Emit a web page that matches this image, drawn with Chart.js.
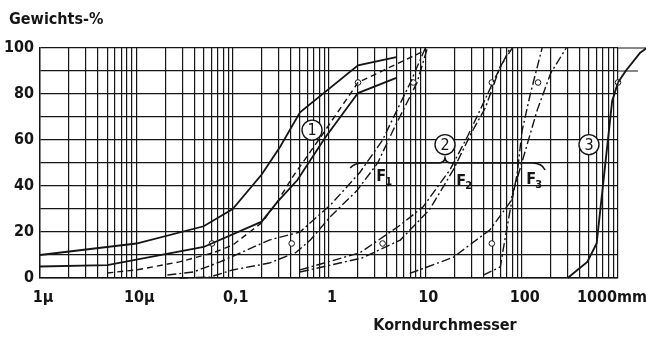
<!DOCTYPE html>
<html><head><meta charset="utf-8">
<script src="https://cdn.jsdelivr.net/npm/chart.js@4"></script>
<style>html,body{margin:0;padding:0;background:#fff}</style>
</head><body>
<canvas id="c" width="646" height="338"></canvas>
<script>
// ---- data (grain diameter in mm, percent by weight passing) ----
const soil1Upper = [[0.001,10],[0.01,15],[0.05,22.5],[0.1,30],[0.2,45],[0.31,57],[0.5,72],[2,92.5],[5,96]];
const soil1Lower = [[0.001,5],[0.005,5.6],[0.05,13.5],[0.2,24.5],[0.29,33],[0.47,42.6],[0.91,61],[2,80.4],[5,87]];
const soil1Mid   = [[0.005,2.2],[0.01,3.5],[0.028,7],[0.063,11],[0.1,14.3],[0.2,24],[0.29,33],[0.42,44],[0.81,61],[2,85],[10,99]];
const f1Upper    = [[0.021,1.3],[0.039,2.6],[0.074,7],[0.24,16.5],[0.5,20],[1.05,32],[2.1,46],[3.6,60],[4,64],[7,85],[10,100]];
const f1Lower    = [[0.028,0],[0.058,0.4],[0.1,3.5],[0.24,6.5],[0.45,11],[0.64,16.5],[1.05,27],[1.95,38],[3.2,50],[4.6,64],[8.2,85],[10.5,100]];
const f2Upper    = [[0.5,3.5],[2.1,11],[5.5,23],[9.5,31],[18,47],[27,61],[37,73],[53,87],[76,100]];
const f2Lower    = [[0.5,2.6],[2.2,8.7],[5.5,16.5],[11,29.6],[19.5,47],[30,63],[42,74],[60,92],[80,100]];
const f3Left     = [[40,1.3],[60,4.8],[65,13.5],[76,29.6],[90,45.6],[101,64],[123,80],[163,100]];
const f3Right    = [[6.9,2],[19.5,9],[47,21],[76,33],[97,48],[145,73],[200,89],[290,100]];
const soil3      = [[300,0],[480,7],[600,15],[870,77],[1000,85],[1200,90],[1700,98],[2000,100]];
const markD15D85 = [[0.061,15],[2,85],[0.41,15],[7.5,85],[3.6,15],[49,85],[49,15],[148,85],[1000,85]];

const xTickValues = [0.001,0.01,0.1,1,10,100,1000];
const xTickLabels = ['1\u00b5','10\u00b5','0,1','1','10','100','1000mm'];
const yTickValues = [0,20,40,60,80,100];

const labelMarks = [ // circled group numbers: [text, d, %]
  ['1',0.667,64.3],['2',16,58],['3',500,58]
];
const filterLabels = [['F','1',3.65,44],['F','2',24.7,42],['F','3',132,42.6]];
const braceSpan = [1.66,16,175,50]; // left end, tip, right end, level

const FONT = "'DejaVu Sans Condensed','DejaVu Sans',sans-serif";
const INK = '#151515';

const toPts = a => a.map(p => ({x:p[0], y:p[1]}));
function lineDs(arr, dash, width){
  return {type:'line', data:toPts(arr), borderColor:INK, borderWidth:width||1.8,
    borderDash:dash||[], pointRadius:0, tension:0, fill:false, clip:false};
}
const DASH = [6,4];
const DASHDOT = [9,3,2,3];

// all 1..9 x 10^k gridlines
const gridVals = [];
for (let e=-3; e<=2; e++) for (let m=1; m<=9; m++) gridVals.push(+(m*Math.pow(10,e)).toPrecision(3));
gridVals.push(1000);

const extras = {
  id:'extras',
  afterDatasetsDraw(chart){
    const {ctx, chartArea:a, scales:{x,y}} = chart;
    ctx.save();
    ctx.strokeStyle = INK; ctx.lineWidth = 1.2;
    // extended top gridlines
    ctx.beginPath();
    ctx.moveTo(a.right, y.getPixelForValue(100)); ctx.lineTo(646, y.getPixelForValue(100));
    ctx.moveTo(a.right, y.getPixelForValue(90)); ctx.lineTo(638, y.getPixelForValue(90));
    ctx.stroke();
    // part of curve 3 beyond the 1000 mm edge
    ctx.lineWidth = 1.9;
    ctx.beginPath();
    let started=false;
    soil3.forEach(([d,p])=>{
      if (d < 1000) return;
      const px=x.getPixelForValue(d), py=y.getPixelForValue(p);
      if(!started){ctx.moveTo(px,py); started=true;} else ctx.lineTo(px,py);
    });
    ctx.stroke();
    // brace
    const [bl,bt,br,lv] = braceSpan;
    const yl = y.getPixelForValue(lv), xl = x.getPixelForValue(bl), xt = x.getPixelForValue(bt), xr = x.getPixelForValue(br);
    ctx.lineWidth = 1.6;
    ctx.beginPath();
    ctx.moveTo(xl, yl+5); ctx.quadraticCurveTo(xl+4, yl, xl+13, yl);
    ctx.lineTo(xt-6, yl); ctx.quadraticCurveTo(xt-1, yl, xt, yl-5);
    ctx.quadraticCurveTo(xt+1, yl, xt+6, yl);
    ctx.lineTo(xr-13, yl); ctx.quadraticCurveTo(xr-3, yl, xr, yl+7);
    ctx.stroke();
    // circled numbers
    ctx.textAlign='center'; ctx.textBaseline='middle';
    labelMarks.forEach(([t,d,p])=>{
      const px = x.getPixelForValue(d), py = y.getPixelForValue(p);
      ctx.fillStyle='#fff'; ctx.beginPath(); ctx.arc(px,py,10,0,Math.PI*2); ctx.fill();
      ctx.fillStyle=INK; ctx.lineWidth=1.4; ctx.stroke();
      ctx.font = "16px "+FONT; ctx.fillText(t, px, py+1);
    });
    // filter labels
    filterLabels.forEach(([f,s,d,p])=>{
      const px = x.getPixelForValue(d), py = y.getPixelForValue(p);
      ctx.font = "bold 16px "+FONT; ctx.textAlign='left';
      ctx.fillText(f, px-7, py);
      ctx.font = "bold 11px "+FONT; ctx.fillText(s, px+2, py+5);
    });
    // x tick labels (decades)
    ctx.font = "bold 16px "+FONT; ctx.textBaseline='middle';
    xTickValues.forEach((v,i)=>{
      const px = x.getPixelForValue(v);
      if (i === xTickValues.length-1){ ctx.textAlign='right'; ctx.fillText(xTickLabels[i], 647, 298); }
      else { ctx.textAlign='center'; ctx.fillText(xTickLabels[i], px+3, 298); }
    });
    // axis titles
    ctx.textAlign='left';
    ctx.fillText('Gewichts-%', 9, 20);
    ctx.textAlign='center';
    ctx.fillText('Korndurchmesser', 445, 326);
    ctx.restore();
  }
};

new Chart(document.getElementById('c'), {
  data:{datasets:[
    lineDs(soil1Upper), lineDs(soil1Lower), lineDs(soil1Mid, DASH, 1.4),
    lineDs(f1Upper, DASHDOT, 1.4), lineDs(f1Lower, DASHDOT, 1.4),
    lineDs(f2Upper, DASHDOT, 1.4), lineDs(f2Lower, DASHDOT, 1.4),
    lineDs(f3Left, DASHDOT, 1.4), lineDs(f3Right, DASHDOT, 1.4),
    lineDs(soil3, [], 1.9),
    {type:'scatter', data:toPts(markD15D85), pointRadius:2.8, pointBackgroundColor:'#fff',
      pointBorderColor:INK, pointBorderWidth:1, showLine:false, clip:false}
  ]},
  options:{
    responsive:false, animation:false, devicePixelRatio:1,
    layout:{padding:{top:48,right:28,left:0,bottom:0}},
    plugins:{legend:{display:false}, tooltip:{enabled:false}},
    scales:{
      x:{type:'logarithmic', min:0.001, max:1000,
        afterBuildTicks(s){ s.ticks = gridVals.map(v=>({value:v})); },
        afterFit(s){ s.height = 60; s.paddingLeft = 0; s.paddingRight = 0; },
        ticks:{autoSkip:false, maxRotation:0, padding:10, callback(){ return ''; }},
        grid:{color:INK, lineWidth:1.2, drawTicks:false},
        border:{color:INK, width:1.4}
      },
      y:{type:'linear', min:0, max:100,
        afterFit(s){ s.width = 40; s.paddingTop = 0; s.paddingBottom = 0; },
        ticks:{stepSize:10, padding:6, color:INK,
          font:{family:FONT, size:16, weight:'bold'},
          callback(v){ return yTickValues.includes(v)? String(v) : ''; }},
        grid:{color:INK, lineWidth:1.2, drawTicks:false},
        border:{color:INK, width:1.4}
      }
    }
  },
  plugins:[extras]
});
</script>
</body></html>
